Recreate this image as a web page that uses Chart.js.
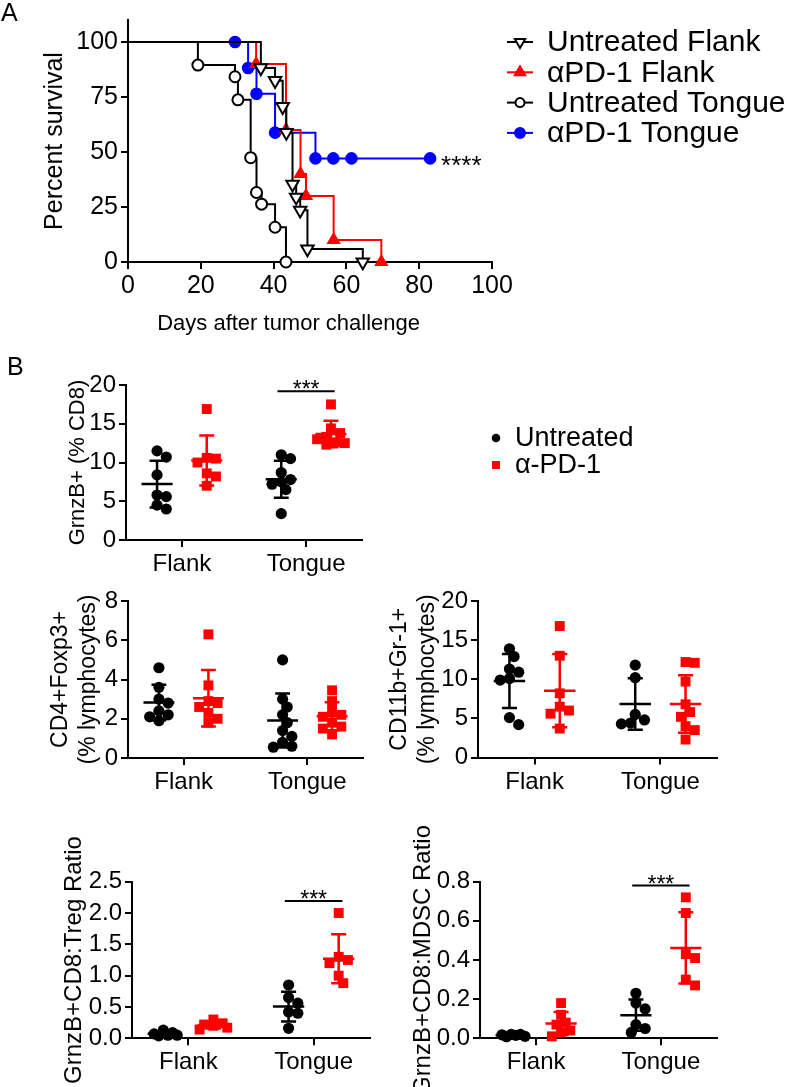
<!DOCTYPE html>
<html lang="en">
<head>
<meta charset="UTF-8">
<title>Survival and tumour infiltrate</title>
<style>
  body { margin: 0; background: #fff; }
  canvas { position: absolute; }
</style>
</head>
<body>
<canvas id="survival" width="787" height="345" style="left:0px;top:0px"></canvas>
<canvas id="grzb" width="787" height="235" style="left:0px;top:345px"></canvas>
<canvas id="cd4" width="385" height="220" style="left:0px;top:580px"></canvas>
<canvas id="cd11b" width="402" height="220" style="left:385px;top:580px"></canvas>
<canvas id="treg" width="385" height="287" style="left:0px;top:800px"></canvas>
<canvas id="mdsc" width="402" height="287" style="left:385px;top:800px"></canvas>

<script src="https://cdn.jsdelivr.net/npm/chart.js"></script>
<script>
// --- Panel A: Kaplan-Meier survival (day, percent surviving) ---
const flankUntreatedDays = [0, 36.5, 40.4, 42.5, 43.5, 45.2, 46.2, 47.3, 49.3, 64.5];
const flankUntreatedSurv = [100, 88.2, 82.4, 70.6, 58.8, 35.3, 29.4, 23.5, 5.9, 0];
const flankTreatedDays = [0, 35.2, 43.4, 47.4, 48.9, 56.5, 69.6];
const flankTreatedSurv = [100, 90, 60, 40, 30, 10, 0];
const tongueUntreatedDays = [0, 19.2, 29.4, 30.2, 33.7, 35.3, 36.7, 40.4, 43.4];
const tongueUntreatedSurv = [100, 89.5, 84.2, 73.7, 47.4, 31.6, 26.3, 15.8, 0];
const tongueTreatedDays = [0, 29.4, 33, 35.3, 40.4, 51.5, 56.4, 61.4, 83];
const tongueTreatedSurv = [100, 100, 88.2, 76.5, 58.8, 47.1, 47.1, 47.1, 47.1];
const survivalLabels = ['Untreated Flank', '\u03b1PD-1 Flank', 'Untreated Tongue', '\u03b1PD-1 Tongue'];
const survivalSig = '****';

// --- Panel B: per-mouse values ---
const sites = ['Flank', 'Tongue'];
const treatments = ['Untreated', '\u03b1-PD-1'];

const grzbFlankUnt = [11.5, 10.7, 8.4, 5.8, 5.6, 4.5, 4.0];
const grzbFlankPD1 = [16.9, 10.6, 10.5, 10.0, 8.6, 8.2, 7.0];
const grzbTongueUnt = [11.0, 10.5, 8.7, 7.8, 7.5, 7.2, 6.5, 3.4];
const grzbTonguePD1 = [17.5, 14.4, 13.8, 13.3, 13.0, 12.6, 12.5, 12.3];

const cd4FlankUnt = [4.6, 3.6, 3.0, 2.8, 2.4, 2.2, 2.1, 1.9];
const cd4FlankPD1 = [6.3, 3.7, 2.9, 2.8, 2.6, 2.3, 2.0, 1.8];
const cd4TongueUnt = [5.0, 3.0, 2.6, 2.2, 1.8, 1.4, 1.1, 0.8, 0.6, 0.55];
const cd4TonguePD1 = [3.45, 2.9, 2.4, 2.2, 2.1, 1.8, 1.6, 1.5, 1.2];

const cd11FlankUnt = [13.9, 12.9, 11.3, 10.9, 10.1, 9.9, 5.1, 4.2];
const cd11FlankPD1 = [16.8, 13.0, 8.2, 6.5, 6.0, 5.6, 3.7];
const cd11TongueUnt = [11.8, 10.2, 5.5, 4.8, 4.4, 4.3];
const cd11TonguePD1 = [12.2, 12.1, 9.7, 6.8, 5.8, 5.2, 4.0, 3.5, 2.3];

const tregFlankUnt = [0.13, 0.09, 0.07, 0.05, 0.05, 0.04];
const tregFlankPD1 = [0.30, 0.24, 0.22, 0.20, 0.17, 0.14];
const tregTongueUnt = [0.85, 0.65, 0.56, 0.42, 0.40, 0.16];
const tregTonguePD1 = [2.0, 1.3, 1.25, 1.2, 1.0, 0.88];

const mdscFlankUnt = [0.02, 0.02, 0.018, 0.015, 0.01, 0.008];
const mdscFlankPD1 = [0.18, 0.12, 0.08, 0.07, 0.04, 0.03, 0.01];
const mdscTongueUnt = [0.23, 0.18, 0.15, 0.07, 0.05, 0.03];
const mdscTonguePD1 = [0.72, 0.64, 0.43, 0.41, 0.30, 0.27];

// significance bars over the Tongue group: [height, stars]
const grzbSig = [19.2, '***'];
const tregSig = [2.19, '***'];
const mdscSig = [0.78, '***'];

// ----------------------------------------------------------------
const FONT = "'Liberation Sans', Arial, Helvetica, sans-serif";
Chart.defaults.font.family = FONT;
Chart.defaults.color = '#000';

const axisGrid = { drawOnChartArea: false, drawTicks: true, tickLength: 7, tickWidth: 2, color: '#000', lineWidth: 2 };
const axisBorder = { display: true, color: '#000', width: 2 };
const groupColors = ['#000000', '#ff0000'];

function marker(ctx, style, x, y, r, rot, fill, stroke) {
  ctx.beginPath();
  if (style === 'triangle') {
    let a = rot * Math.PI / 180;
    for (let k = 0; k < 3; k++) {
      const px = x + Math.sin(a) * r, py = y - Math.cos(a) * r;
      if (k) ctx.lineTo(px, py); else ctx.moveTo(px, py);
      a += 2 * Math.PI / 3;
    }
    ctx.closePath();
  } else if (style === 'rect') {
    const s = r * Math.SQRT1_2;
    ctx.rect(x - s, y - s, 2 * s, 2 * s);
  } else {
    ctx.arc(x, y, r, 0, 2 * Math.PI);
  }
  ctx.fillStyle = fill;
  ctx.fill();
  if (stroke) { ctx.strokeStyle = stroke; ctx.lineWidth = 2; ctx.stroke(); }
}

// frame the chart area at fixed page pixels
function frame(canvas, area) {
  const cl = parseFloat(canvas.style.left), ct = parseFloat(canvas.style.top);
  return {
    cl, ct,
    padding: { top: area.top - ct, right: cl + canvas.width - area.right, left: 0, bottom: 0 },
    yWidth: area.left - cl,
    xHeight: ct + canvas.height - area.bottom
  };
}

// ---------------- Panel A ----------------
function kmSet(label, days, surv, color, fill, style, radius, rot, legendR) {
  return {
    label: label,
    data: days.map((d, i) => ({ x: d, y: surv[i] })),
    showLine: true, stepped: true,
    borderColor: color, borderWidth: 2,
    pointStyle: style, pointRotation: rot,
    pointRadius: days.map((d, i) => i === 0 ? 0 : radius),
    pointBackgroundColor: fill, pointBorderColor: color, pointBorderWidth: 2,
    legendR: legendR,
    clip: false
  };
}

const survCanvas = document.getElementById('survival');
const survArea = { left: 128, right: 492, top: 20, bottom: 262 };
const sf = frame(survCanvas, survArea);

const survivalDecor = {
  id: 'survivalDecor',
  afterDraw(chart) {
    const { ctx, scales: { x, y } } = chart;
    ctx.save();
    ctx.fillStyle = '#000';
    ctx.textBaseline = 'middle';
    ctx.font = '25px ' + FONT;
    ctx.fillText('A', 1, 14);

    ctx.font = '26px ' + FONT;
    ctx.textBaseline = 'alphabetic';
    const lastDay = tongueTreatedDays[tongueTreatedDays.length - 1];
    const lastSurv = tongueTreatedSurv[tongueTreatedSurv.length - 1];
    ctx.fillText(survivalSig, x.getPixelForValue(lastDay) + 11, y.getPixelForValue(lastSurv) + 16);

    chart.data.datasets.forEach((ds, i) => {
      const cy = 42 + i * 30.3;
      ctx.strokeStyle = ds.borderColor;
      ctx.lineWidth = 2;
      ctx.beginPath(); ctx.moveTo(507, cy); ctx.lineTo(533, cy); ctx.stroke();
      marker(ctx, ds.pointStyle, 520, cy, ds.legendR, ds.pointRotation, ds.pointBackgroundColor, ds.pointBorderColor);
      ctx.fillStyle = '#000';
      ctx.textBaseline = 'middle';
      ctx.font = '30px ' + FONT;
      ctx.fillText(ds.label, 547, cy + 1);
    });
    ctx.restore();
  }
};

new Chart(survCanvas, {
  type: 'scatter',
  data: {
    datasets: [
      kmSet(survivalLabels[0], flankUntreatedDays, flankUntreatedSurv, '#000000', '#ffffff', 'triangle', 7.2, 180, 6),
      kmSet(survivalLabels[1], flankTreatedDays, flankTreatedSurv, '#ff0000', '#ff0000', 'triangle', 6.2, 0, 6),
      kmSet(survivalLabels[2], tongueUntreatedDays, tongueUntreatedSurv, '#000000', '#ffffff', 'circle', 5.5, 0, 4.5),
      kmSet(survivalLabels[3], tongueTreatedDays, tongueTreatedSurv, '#0000ff', '#0000ff', 'circle', 5.3, 0, 5)
    ]
  },
  options: {
    responsive: false, animation: false, devicePixelRatio: 1,
    layout: { padding: sf.padding },
    plugins: { legend: { display: false }, tooltip: { enabled: false } },
    scales: {
      x: {
        type: 'linear', min: 0, max: 100,
        ticks: { stepSize: 20, font: { size: 25 }, maxRotation: 0, autoSkip: false, padding: 2 },
        grid: axisGrid, border: axisBorder,
        // trailing spaces pull the centred title a little to the left, as in the source figure
        title: { display: true, text: 'Days after tumor challenge       ', font: { size: 22 }, padding: { top: 0, bottom: 8 } },
        afterFit: s => { s.height = sf.xHeight; }
      },
      y: {
        min: 0, max: 110,
        ticks: { stepSize: 25, includeBounds: false, autoSkip: false, font: { size: 25 }, padding: 3 },
        grid: axisGrid, border: axisBorder,
        title: { display: true, text: 'Percent survival', font: { size: 25 }, padding: { top: 40, bottom: 0 } },
        afterFit: s => { s.width = sf.yWidth; }
      }
    }
  },
  plugins: [survivalDecor]
});

// ---------------- Panel B ----------------
const X_MIN = 0.55, X_MAX = 2.45, SHIFT = 0.2;

// spread points sideways a little so markers do not pile up (tight beeswarm)
function swarm(values, pxX, pxY, diam) {
  const order = values.map((v, i) => i).sort((a, b) => values[b] - values[a]);
  const placed = [];
  const offs = new Array(values.length).fill(0);
  const stepPx = diam * 0.42;
  order.forEach(i => {
    const yp = values[i] * pxY;
    let best = 0, bestGap = -1;
    for (let k = 0; k < 7; k++) {
      const xp = Math.ceil(k / 2) * (k % 2 ? 1 : -1) * stepPx;
      const gap = placed.length ? Math.min(...placed.map(p => Math.hypot(p.x - xp, p.y - yp))) : Infinity;
      if (gap >= diam * 0.8) { best = xp; bestGap = gap; break; }
      if (gap > bestGap) { best = xp; bestGap = gap; }
    }
    placed.push({ x: best, y: yp });
    offs[i] = best / pxX;
  });
  return offs;
}

function errorBarSet(values, cx, color) {
  const n = values.length;
  const m = values.reduce((a, b) => a + b, 0) / n;
  const sd = Math.sqrt(values.reduce((a, b) => a + (b - m) * (b - m), 0) / (n - 1));
  const w = 0.125, c = 0.06;
  const gap = { x: cx, y: null };
  return {
    type: 'scatter', order: 0, showLine: true, spanGaps: false,
    borderColor: color, borderWidth: 2.5, pointRadius: 0, clip: false,
    data: [
      { x: cx - w, y: m }, { x: cx + w, y: m }, gap,
      { x: cx - c, y: m + sd }, { x: cx + c, y: m + sd }, gap,
      { x: cx - c, y: m - sd }, { x: cx + c, y: m - sd }, gap,
      { x: cx, y: m - sd }, { x: cx, y: m + sd }
    ]
  };
}

function scatterPanel(id, spec) {
  const canvas = document.getElementById(id);
  const a = spec.area;
  const f = frame(canvas, a);
  const pxX = (a.right - a.left) / (X_MAX - X_MIN);
  const pxY = (a.bottom - a.top) / spec.yMax;
  const datasets = [];
  spec.groups.forEach((pair, gi) => {
    pair.forEach((vals, ti) => {
      const cx = gi + 1 + (ti ? SHIFT : -SHIFT);
      const offs = swarm(vals, pxX, pxY, 11);
      datasets.push({
        type: 'scatter', order: 1, label: treatments[ti],
        data: vals.map((v, i) => ({ x: cx + offs[i], y: v })),
        pointStyle: ti ? 'rect' : 'circle', pointRadius: ti ? 7 : 5.6,
        pointBackgroundColor: groupColors[ti], pointBorderWidth: 0, clip: false
      });
      datasets.push(errorBarSet(vals, cx, groupColors[ti]));
    });
  });

  const titleSize = spec.titleSize || 23;
  const decor = {
    id: 'decor_' + id,
    afterDraw(chart) {
      const { ctx, scales: { x, y } } = chart;
      ctx.save();
      if (spec.sig) {
        const yb = y.getPixelForValue(spec.sig[0]);
        ctx.strokeStyle = '#000'; ctx.lineWidth = 2;
        ctx.beginPath();
        ctx.moveTo(x.getPixelForValue(2 - 0.23), yb);
        ctx.lineTo(x.getPixelForValue(2 + 0.23), yb);
        ctx.stroke();
        ctx.fillStyle = '#000';
        ctx.font = '23px ' + FONT;
        ctx.textAlign = 'center';
        ctx.textBaseline = 'alphabetic';
        ctx.fillText(spec.sig[1], x.getPixelForValue(2), yb + 6);
      }
      if (spec.extra) spec.extra(ctx, chart);
      ctx.restore();
    }
  };

  return new Chart(canvas, {
    type: 'scatter',
    data: { datasets: datasets },
    options: {
      responsive: false, animation: false, devicePixelRatio: 1,
      layout: { padding: f.padding },
      plugins: { legend: { display: false }, tooltip: { enabled: false } },
      scales: {
        x: {
          type: 'linear', min: X_MIN, max: X_MAX,
          afterBuildTicks: s => { s.ticks = sites.map((c, i) => ({ value: i + 1 })); },
          ticks: { font: { size: 24 }, maxRotation: 0, autoSkip: false, padding: 3, callback: v => sites[Math.round(v) - 1] },
          grid: axisGrid, border: axisBorder,
          afterFit: s => { s.height = f.xHeight; }
        },
        y: {
          min: 0, max: spec.yMax,
          ticks: {
            stepSize: spec.yStep, font: { size: 24 }, padding: 3, autoSkip: false,
            callback: v => spec.decimals ? v.toFixed(spec.decimals) : String(Math.round(v))
          },
          grid: axisGrid, border: axisBorder,
          title: {
            display: true, text: spec.title, font: { size: titleSize },
            padding: { top: spec.titleX - f.cl - titleSize * 0.6, bottom: 0 }
          },
          afterFit: s => { s.width = f.yWidth; }
        }
      }
    },
    plugins: [decor]
  });
}

scatterPanel('grzb', {
  area: { left: 126, right: 362, top: 385, bottom: 540 },
  yMax: 20, yStep: 5, title: 'GrnzB+ (% CD8)', titleSize: 22, titleX: 78,
  groups: [[grzbFlankUnt, grzbFlankPD1], [grzbTongueUnt, grzbTonguePD1]],
  sig: grzbSig,
  extra: (ctx) => {
    ctx.fillStyle = '#000';
    ctx.textAlign = 'left';
    ctx.textBaseline = 'middle';
    ctx.font = '25px ' + FONT;
    ctx.fillText('B', 7, 23);
    ctx.font = '27px ' + FONT;
    treatments.forEach((t, i) => {
      const cy = 93 + i * 27;
      marker(ctx, i ? 'rect' : 'circle', 496, cy, i ? 5.6 : 4.3, 0, groupColors[i], null);
      ctx.fillStyle = '#000';
      ctx.fillText(t, 515, cy + 1);
    });
  }
});

scatterPanel('cd4', {
  area: { left: 128, right: 363, top: 601, bottom: 758 },
  yMax: 8, yStep: 2, title: ['CD4+Foxp3+', '(% lymphocytes)'], titleSize: 23, titleX: 61,
  groups: [[cd4FlankUnt, cd4FlankPD1], [cd4TongueUnt, cd4TonguePD1]]
});

scatterPanel('cd11b', {
  area: { left: 478, right: 717, top: 601, bottom: 757.5 },
  yMax: 20, yStep: 5, title: ['CD11b+Gr-1+', '(% lymphocytes)'], titleSize: 23, titleX: 400,
  groups: [[cd11FlankUnt, cd11FlankPD1], [cd11TongueUnt, cd11TonguePD1]]
});

scatterPanel('treg', {
  area: { left: 132, right: 370, top: 881.7, bottom: 1038.3 },
  yMax: 2.5, yStep: 0.5, decimals: 1, title: 'GrnzB+CD8:Treg Ratio', titleSize: 24, titleX: 74,
  groups: [[tregFlankUnt, tregFlankPD1], [tregTongueUnt, tregTonguePD1]],
  sig: tregSig
});

scatterPanel('mdsc', {
  area: { left: 480, right: 717, top: 881.7, bottom: 1038.3 },
  yMax: 0.8, yStep: 0.2, decimals: 1, title: 'GrnzB+CD8:MDSC Ratio', titleSize: 24, titleX: 423,
  groups: [[mdscFlankUnt, mdscFlankPD1], [mdscTongueUnt, mdscTonguePD1]],
  sig: mdscSig
});
</script>
</body>
</html>
